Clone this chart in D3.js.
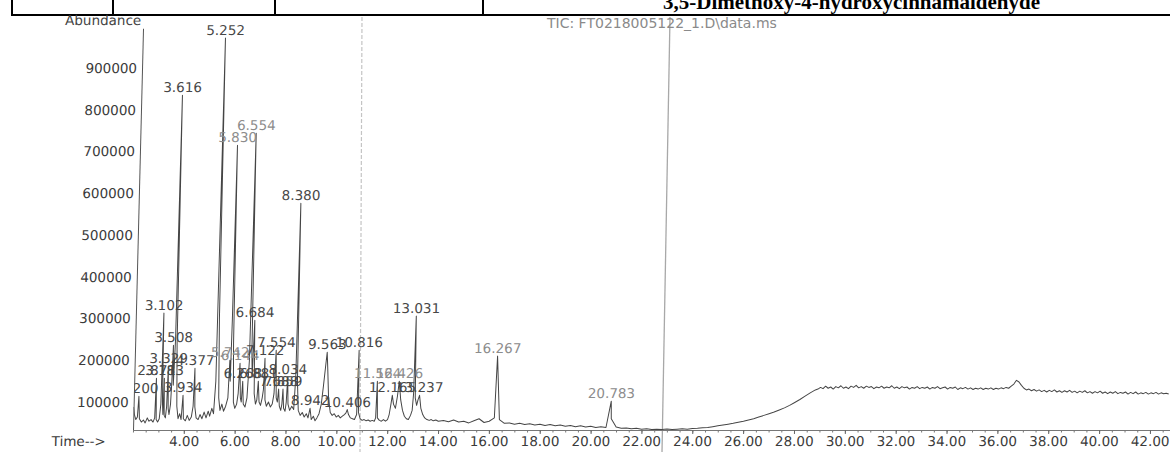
<!DOCTYPE html>
<html>
<head>
<meta charset="utf-8">
<script src="https://cdn.jsdelivr.net/npm/d3@7"></script>
<style>
  html, body { margin: 0; padding: 0; background: #fff; }
  svg { display: block; }
</style>
</head>
<body>
<script>
// ---- Data -------------------------------------------------------------
// Integrated peaks: retention time (min) and apex abundance
const peakTimes = [2.200, 2.871, 3.102, 3.183, 3.329, 3.508, 3.616, 3.934, 4.377, 5.252,
  5.742, 5.830, 6.144, 6.268, 6.554, 6.684, 6.881, 7.122, 7.554, 7.688,
  7.859, 8.034, 8.380, 8.942, 9.563, 10.406, 10.816, 11.564, 12.165, 12.426,
  13.031, 13.237, 16.267, 20.783];
const peakHeights = [114000, 157000, 313000, 157000, 186000, 236000, 835000, 116000, 181000, 972000,
  200000, 715000, 193000, 150000, 744000, 296000, 150000, 205000, 224000, 131000,
  131000, 160000, 576000, 85000, 219000, 82000, 224000, 150000, 116000, 150000,
  306000, 116000, 210000, 102000];

// TIC between the labelled apexes, 2-14 min: [time, abundance]
const earlyTrace = [
  [2.00, 88000], [2.04, 70000], [2.10, 58000], [2.16, 64000], [2.24, 60000], [2.32, 52000],
  [2.40, 57000], [2.47, 50000], [2.55, 62000], [2.62, 54000], [2.70, 58000], [2.78, 52000],
  [2.84, 62000], [2.90, 58000], [2.96, 52000], [3.02, 60000], [3.07, 95000], [3.13, 100000],
  [3.16, 70000], [3.21, 68000], [3.26, 62000], [3.30, 90000], [3.36, 85000], [3.40, 70000],
  [3.45, 95000], [3.48, 150000], [3.54, 140000], [3.585, 250000], [3.65, 240000], [3.70, 90000],
  [3.76, 60000], [3.82, 72000], [3.88, 58000], [3.97, 60000], [4.05, 55000], [4.12, 68000],
  [4.20, 56000], [4.28, 64000], [4.34, 90000], [4.41, 88000], [4.47, 62000], [4.55, 58000],
  [4.62, 70000], [4.70, 60000], [4.78, 76000], [4.86, 62000], [4.94, 78000], [5.00, 66000],
  [5.08, 85000], [5.15, 72000], [5.21, 150000], [5.29, 300000], [5.34, 110000], [5.40, 80000],
  [5.47, 95000], [5.54, 78000], [5.62, 90000], [5.70, 110000], [5.775, 150000], [5.80, 300000],
  [5.87, 240000], [5.92, 100000], [5.98, 85000], [6.05, 95000], [6.10, 120000], [6.19, 110000],
  [6.23, 100000], [6.31, 95000], [6.38, 88000], [6.45, 110000], [6.51, 200000], [6.60, 220000],
  [6.635, 160000], [6.73, 120000], [6.79, 95000], [6.84, 105000], [6.93, 100000], [6.99, 92000],
  [7.05, 110000], [7.09, 130000], [7.16, 105000], [7.22, 90000], [7.30, 100000], [7.38, 88000],
  [7.45, 95000], [7.51, 120000], [7.60, 110000], [7.65, 100000], [7.73, 90000], [7.79, 80000],
  [7.83, 95000], [7.90, 85000], [7.96, 78000], [8.00, 100000], [8.07, 95000], [8.14, 80000],
  [8.22, 90000], [8.30, 82000], [8.35, 160000], [8.42, 150000], [8.48, 80000], [8.56, 68000],
  [8.64, 75000], [8.72, 64000], [8.80, 72000], [8.87, 62000], [9.00, 58000], [9.08, 66000],
  [9.15, 55000], [9.22, 62000], [9.30, 72000], [9.38, 95000], [9.45, 140000], [9.52, 190000],
  [9.60, 180000], [9.66, 110000], [9.74, 75000], [9.82, 68000], [9.90, 72000], [9.98, 64000],
  [10.06, 68000], [10.14, 62000], [10.22, 66000], [10.30, 70000], [10.36, 74000], [10.46, 70000],
  [10.54, 62000], [10.62, 60000], [10.70, 58000], [10.78, 70000], [10.85, 75000], [10.92, 60000],
  [11.00, 56000], [11.08, 58000], [11.16, 55000], [11.24, 57000], [11.32, 54000], [11.40, 56000],
  [11.48, 54000], [11.53, 62000], [11.60, 62000], [11.68, 56000], [11.76, 54000], [11.84, 58000],
  [11.92, 54000], [12.00, 58000], [12.06, 70000], [12.12, 95000], [12.22, 95000], [12.30, 85000],
  [12.37, 115000], [12.50, 105000], [12.58, 80000], [12.66, 66000], [12.74, 60000], [12.82, 58000],
  [12.90, 68000], [12.96, 80000], [13.00, 120000], [13.07, 110000], [13.13, 92000], [13.18, 105000],
  [13.30, 85000], [13.38, 70000], [13.46, 62000], [13.55, 58000], [13.64, 56000], [13.72, 58000],
  [13.80, 55000], [13.90, 57000], [14.00, 54000]
];

// TIC sampled every 0.2 min from 14.2 to 28.8 min
const midStart = 14.2, midStep = 0.2;
const midValues = [
  56000, 53000, 57000, 52000, 54000, 50000, 55000, 60000, 51000, 54000,
  62000, 58000, 49000, 50000, 47000, 49000, 46000, 48000, 45000, 47000,
  44000, 46000, 43000, 45000, 42000, 44000, 41000, 43000, 40000, 42000,
  39000, 41000, 39000, 60000, 40000, 37000, 38000, 36000, 37000, 35000,
  36000, 34000, 35000, 34000, 35500, 34000, 35000, 36000, 35000, 36500,
  37000, 38500, 39000, 41000, 43000, 45000, 47000, 49000, 51500, 54000,
  57000, 60000, 64000, 68000, 72000, 76000, 81000, 86000, 92000, 99000,
  106000, 114000, 122000, 129000
];

// TIC sampled every 0.1 min from 28.9 min to the end of the run
const lateStart = 28.9, lateStep = 0.1;
const lateValues = [
  131000, 135000, 132000, 138000, 133000, 136000, 131000, 137000, 134000, 139000,
  133000, 136000, 132000, 138000, 135000, 140000, 134000, 137000, 133000, 138000,
  135000, 137000, 132000, 136000, 134000, 138000, 133000, 136000, 134000, 139000,
  133000, 136000, 132000, 137000, 134000, 136000, 131000, 135000, 133000, 137000,
  132000, 135000, 133000, 136000, 131000, 135000, 133000, 137000, 132000, 134000,
  136000, 131000, 135000, 133000, 136000, 130000, 134000, 132000, 135000, 131000,
  134000, 130000, 133000, 131000, 134000, 130000, 133000, 131000, 134000, 130000,
  133000, 131000, 134000, 132000, 135000, 133000, 138000, 143000, 152000, 148000,
  140000, 133000, 129000, 131000, 127000, 130000, 126000, 129000, 125000, 128000,
  124000, 128000, 125000, 129000, 124000, 127000, 123000, 127000, 124000, 128000,
  123000, 126000, 122000, 126000, 123000, 127000, 122000, 125000, 121000, 125000,
  122000, 126000, 121000, 124000, 120000, 124000, 121000, 125000, 120000, 123000,
  121000, 124000, 119000, 123000, 120000, 124000, 119000, 122000, 120000, 123000,
  119000, 122000, 120000, 123000, 119000, 122000, 120000, 121000, 119000
];

const timeTicks = [4, 6, 8, 10, 12, 14, 16, 18, 20, 22, 24, 26, 28, 30, 32, 34, 36, 38, 40, 42];
const abundanceTicks = [100000, 200000, 300000, 400000, 500000, 600000, 700000, 800000, 900000];
const headerTitle = "3,5-Dimethoxy-4-hydroxycinnamaldehyde";
const ticTitle = "TIC: FT0218005122_1.D\\data.ms";
const fadedLabels = ["5.830", "6.554", "16.267", "20.783", "11.564", "12.426", "6.144", "5.742"];

// ---- Layout ----------------------------------------------------------
const W = 1170, H = 452;
const font = "'DejaVu Sans', sans-serif";
const svg = d3.select("body").append("svg").attr("width", W).attr("height", H);
svg.append("rect").attr("width", W).attr("height", H).attr("fill", "#fff");

// table row above the chart
const header = svg.append("g").attr("stroke", "#000").attr("stroke-width", 2);
header.append("line").attr("x1", 11).attr("x2", W).attr("y1", 15).attr("y2", 15);
[12, 113, 275, 483].forEach(px =>
  header.append("line").attr("x1", px).attr("x2", px).attr("y1", 0).attr("y2", 15));
svg.append("text").attr("x", 663).attr("y", 9)
  .attr("font-family", "'Liberation Serif', serif").attr("font-weight", "bold")
  .attr("font-size", 21).attr("fill", "#000").text(headerTitle);

// paper fold lines
svg.append("line").attr("x1", 362).attr("y1", 17).attr("x2", 360).attr("y2", H)
  .attr("stroke", "#c4c4c4").attr("stroke-width", 1.2).attr("stroke-dasharray", "4,2");
svg.append("line").attr("x1", 670).attr("y1", 17).attr("x2", 662).attr("y2", H)
  .attr("stroke", "#a8a8a8").attr("stroke-width", 1.3);

svg.append("text").attr("x", 547).attr("y", 28)
  .attr("font-family", font).attr("font-size", 14).attr("fill", "#8a8a8a").text(ticTitle);

// ---- Scales ----------------------------------------------------------
const x = d3.scaleLinear().domain([2.0, 42.8]).range([133, 133 + 40.8 * 25.425]);
const y = d3.scaleLinear().domain([33000, 995000]).range([430, 28.35]);

// the printed plot leans slightly to the left towards its base
const g = svg.append("g")
  .attr("transform", "translate(0,430) skewX(-1.43) translate(0,-430)");

g.append("defs").append("clipPath").attr("id", "plotClip")
  .append("rect").attr("x", 133).attr("y", 0).attr("width", W - 133 + 20).attr("height", 431);

// ---- Trace -----------------------------------------------------------
const midTrace = midValues.map((v, i) => [midStart + i * midStep, v]);
const lateTrace = lateValues.map((v, i) => [lateStart + i * lateStep, v]);
const apexes = peakTimes.map((t, i) => [t, peakHeights[i]]);
const tic = d3.sort(earlyTrace.concat(midTrace, lateTrace, apexes), d => d[0]);

const plot = g.append("g").attr("clip-path", "url(#plotClip)");
plot.append("path")
  .attr("d", d3.line().x(d => x(d[0])).y(d => y(d[1]))(tic))
  .attr("fill", "none").attr("stroke", "#454545").attr("stroke-width", 1)
  .attr("stroke-linejoin", "round");

// peak labels
const fmtRT = d3.format(".3f");
plot.append("g").selectAll("text").data(apexes).join("text")
  .attr("x", d => x(d[0])).attr("y", d => y(d[1]) - 3)
  .attr("text-anchor", "middle")
  .attr("font-family", font).attr("font-size", 13.5)
  .attr("fill", d => fadedLabels.includes(fmtRT(d[0])) ? "#8c8c8c" : "#474747")
  .text(d => fmtRT(d[0]));

// ---- Axes ------------------------------------------------------------
const yAxis = g.append("g").attr("transform", "translate(133,0)")
  .call(d3.axisLeft(y).tickValues(abundanceTicks).tickSize(0).tickSizeOuter(0)
    .tickPadding(5).tickFormat(d3.format("d")));
yAxis.select(".domain").attr("stroke", "#555");
yAxis.selectAll("text").attr("font-family", font).attr("font-size", 13.5).attr("fill", "#3a3a3a");

const xMinor = g.append("g").attr("transform", "translate(0,430)")
  .call(d3.axisBottom(x).tickValues(x.ticks(80)).tickSize(2.5).tickSizeOuter(0).tickFormat(""));
xMinor.select(".domain").attr("stroke", "#777");
xMinor.selectAll(".tick line").attr("stroke", "#777");

const xAxis = g.append("g").attr("transform", "translate(0,430)")
  .call(d3.axisBottom(x).tickValues(timeTicks).tickSize(4).tickSizeOuter(0)
    .tickPadding(2.5).tickFormat(d3.format(".2f")));
xAxis.select(".domain").remove();
xAxis.selectAll(".tick line").attr("stroke", "#666");
xAxis.selectAll("text").attr("font-family", font).attr("font-size", 13.5).attr("fill", "#3a3a3a");

g.append("text").attr("x", 131).attr("y", 25).attr("text-anchor", "end")
  .attr("font-family", font).attr("font-size", 13.5).attr("fill", "#444").text("Abundance");
g.append("text").attr("x", 52).attr("y", 446)
  .attr("font-family", font).attr("font-size", 13.5).attr("fill", "#3a3a3a").text("Time-->");
</script>
</body>
</html>
